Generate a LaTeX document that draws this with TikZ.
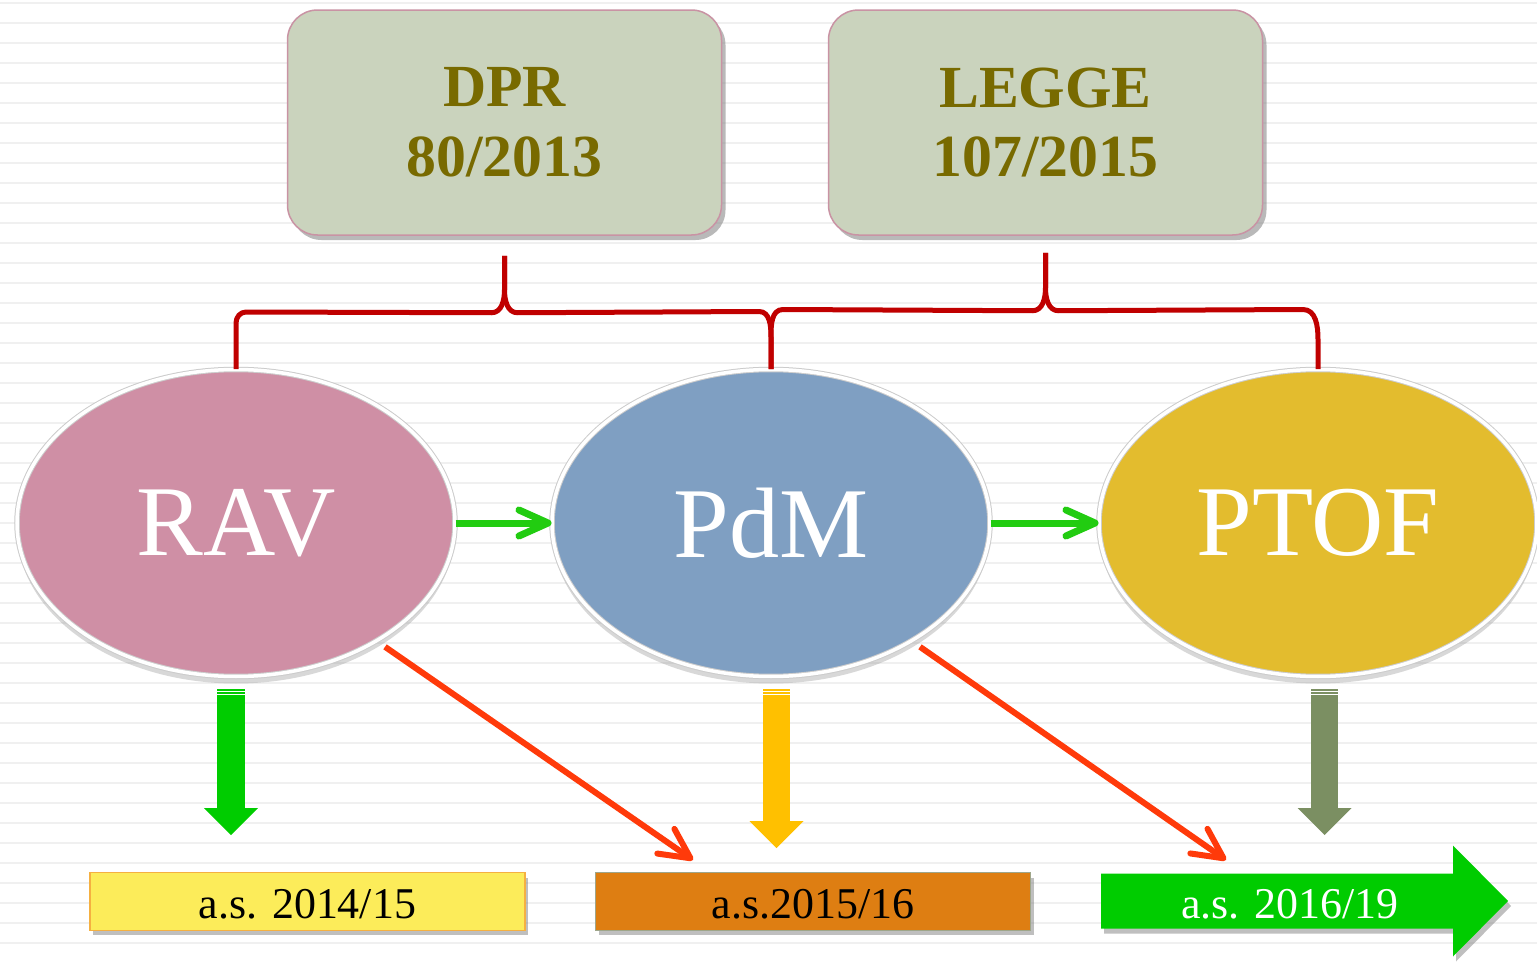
\documentclass[tikz,border=0pt]{standalone}
\usepackage{fontspec}
\setmainfont{Liberation Serif}
\usetikzlibrary{shapes.geometric,arrows.meta,shadows,calc}

\definecolor{boxgreen}{HTML}{CAD3BD}
\definecolor{boxedge}{HTML}{C993A4}
\definecolor{lawtext}{HTML}{786A00}
\definecolor{bracered}{HTML}{C00000}
\definecolor{ravpink}{HTML}{CF8FA5}
\definecolor{pdmblue}{HTML}{7F9FC2}
\definecolor{ptofgold}{HTML}{E3BC2E}
\definecolor{flowgreen}{HTML}{22CC11}
\definecolor{linkred}{HTML}{FF3A0A}
\definecolor{blockgreen}{HTML}{00CC00}
\definecolor{blockyellow}{HTML}{FFC000}
\definecolor{blockolive}{HTML}{7B8F62}
\definecolor{yearyellow}{HTML}{FCEC5A}
\definecolor{yearyellowedge}{HTML}{F5B041}
\definecolor{yearorange}{HTML}{DE7E12}
\definecolor{yearorangeedge}{HTML}{9FA68A}

\tikzset{
  lawbox/.style={rectangle, rounded corners=3mm, fill=boxgreen, draw=boxedge, line width=0.15mm,
    minimum width=43.4mm, minimum height=22.5mm, align=center, text=lawtext,
    font=\fontsize{17}{19.9}\selectfont\bfseries,
    drop shadow={shadow xshift=0.4mm, shadow yshift=-0.5mm, opacity=0.55}},
  phase/.style={ellipse, fill=#1, draw=gray!40, double=white, double distance=0.35mm, line width=0.1mm,
    minimum width=43.8mm, minimum height=30.7mm, text=white, font=\fontsize{28.5}{30}\selectfont,
    drop shadow={shadow xshift=0mm, shadow yshift=-0.7mm, opacity=0.3}},
  yearbox/.style={rectangle, fill=#1, line width=0.12mm, minimum width=43.5mm, minimum height=5.75mm,
    inner sep=0pt, text height=3.6mm, text depth=0.2mm, font=\fontsize{12.5}{14}\selectfont,
    drop shadow={shadow xshift=0.3mm, shadow yshift=-0.5mm, opacity=0.5}},
  brace/.style={draw=bracered, line width=0.5mm, line join=round},
  flow/.style={draw=flowgreen, line width=0.7mm, -{Straight Barb[length=2.9mm,width=2.6mm,round]}},
  link/.style={draw=linkred, line width=0.6mm, -{Straight Barb[length=3mm,width=3mm,round]}},
  block/.style={draw=#1, line width=2.75mm, -{Triangle[length=2.7mm,width=5.4mm,line width=0pt]}},
  stripe/.style={draw=black!6, line width=0.28mm}
}

\begin{document}
\begin{tikzpicture}
\useasboundingbox (0,0) rectangle (153.7mm,96.3mm);
\fill[white] (0,0) rectangle (153.7mm,96.3mm);

% righe di sfondo
\foreach \k in {0,...,47}
  \draw[stripe] (0,96mm-\k*2mm) -- (153.7mm,96mm-\k*2mm);

% DPR e LEGGE
\node[lawbox] (dpr) at (50.45mm,84.05mm) {DPR\\80/2013};
\node[lawbox] (legge) at (104.55mm,84.05mm) {LEGGE\\107/2015};

% RAV, PdM, PTOF
\node[phase=ravpink] (rav) at (23.6mm,44mm) {RAV};
\node[phase=pdmblue] (pdm) at (77.1mm,44mm) {PdM};
\node[phase=ptofgold] (ptof) at (131.8mm,44mm) {PTOF};

% graffe
\draw[brace] (rav.north) -- ++(0,4.6mm) to[out=90,in=180] ++(1mm,1.1mm)
  -- ($(dpr.south)+(-1.3mm,-7.7mm)$) to[out=0,in=-90] ($(dpr.south)+(0,-5.4mm)$) -- ($(dpr.south)+(0,-2mm)$);
\draw[brace] (pdm.north) -- ++(0,3.2mm) to[out=90,in=0] ++(-1.2mm,2.55mm)
  -- ($(dpr.south)+(1.3mm,-7.7mm)$) to[out=180,in=-90] ($(dpr.south)+(0,-5.4mm)$) -- ($(dpr.south)+(0,-2mm)$);
\draw[brace] (pdm.north) -- ++(0,3.2mm) to[out=90,in=180] ++(1.2mm,2.75mm)
  -- ($(legge.south)+(-1.3mm,-7.5mm)$) to[out=0,in=-90] ($(legge.south)+(0,-5.2mm)$) -- ($(legge.south)+(0,-1.7mm)$);
\draw[brace] (ptof.north) -- ++(0,3mm) to[out=90,in=0] ++(-1.5mm,2.95mm)
  -- ($(legge.south)+(1.3mm,-7.5mm)$) to[out=180,in=-90] ($(legge.south)+(0,-5.2mm)$) -- ($(legge.south)+(0,-1.7mm)$);

% frecce verdi
\draw[flow] (rav) -- (pdm);
\draw[flow] (pdm) -- (ptof);

% anni scolastici
\node[yearbox=yearyellow, draw=yearyellowedge] (as1415) at (30.75mm,6.15mm) {a.s. 2014/15};
\node[yearbox=yearorange, draw=yearorangeedge] (as1516) at (81.3mm,6.15mm) {a.s.2015/16};
\fill[blockgreen, drop shadow={shadow xshift=0.3mm, shadow yshift=-0.5mm, opacity=0.5}]
  (110.1mm,3.45mm) -- (145.3mm,3.45mm) -- (145.3mm,0.65mm) -- (150.8mm,6.2mm)
  -- (145.3mm,11.75mm) -- (145.3mm,8.95mm) -- (110.1mm,8.95mm) -- cycle;
\node[font=\fontsize{12.5}{14}\selectfont, text=white, inner sep=0pt, text height=3.6mm, text depth=0.2mm]
  (as1619) at (129mm,6.2mm) {a.s. 2016/19};

% frecce in basso
\draw[block=blockgreen] ([shift={(-0.5mm,-1.2mm)}]rav.south) -- ++(0,-14.6mm);
\draw[block=blockyellow] ([shift={(0.55mm,-1.2mm)}]pdm.south) -- ++(0,-15.9mm);
\draw[block=blockolive] ([shift={(0.65mm,-1.2mm)}]ptof.south) -- ++(0,-14.6mm);
\foreach \a/\dx in {rav/-0.5mm,pdm/0.55mm,ptof/0.65mm}{
  \draw[white, line width=0.12mm] ([shift={(\dx-1.4mm,-1.45mm)}]\a.south) -- ++(2.8mm,0);
  \draw[white, line width=0.12mm] ([shift={(\dx-1.4mm,-1.75mm)}]\a.south) -- ++(2.8mm,0);
}

% frecce rosse
\coordinate (hit1) at (69.3mm,10.3mm);
\coordinate (hit2) at (122.6mm,10.3mm);
\draw[link, shorten <=1mm] (rav.-40) -- (hit1);
\draw[link, shorten <=1mm] (pdm.-40) -- (hit2);
\end{tikzpicture}
\end{document}
